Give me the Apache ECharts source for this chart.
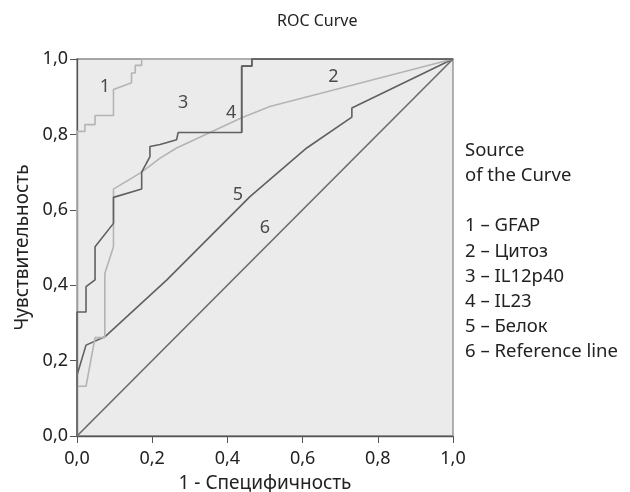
<!DOCTYPE html>
<html>
<head>
<meta charset="utf-8">
<script src="https://cdn.jsdelivr.net/npm/echarts@6/dist/echarts.min.js"></script>
<style>
    html, body {margin: 0; padding: 0; background: #fff;}
    #chart {width: 630px; height: 492px;}
</style>
</head>
<body>
<div id="chart"></div>
<script>
// ROC-кривые, точки [1 - специфичность, чувствительность]
const gfap = [[0, 0], [0, 0.808], [0.021, 0.808], [0.021, 0.826], [0.048, 0.826], [0.048, 0.850],
    [0.097, 0.850], [0.097, 0.919], [0.145, 0.937], [0.145, 0.963], [0.155, 0.963], [0.155, 0.983],
    [0.172, 0.983], [0.172, 1], [1, 1]];
const cytosis = [[0, 0], [0, 0.132], [0.024, 0.132], [0.048, 0.261], [0.074, 0.261], [0.074, 0.431],
    [0.097, 0.502], [0.097, 0.655], [0.172, 0.700], [0.221, 0.737], [0.265, 0.764], [0.438, 0.844],
    [0.513, 0.874], [1, 1]];
const il12p40 = [[0, 0], [0, 0.329], [0.024, 0.329], [0.024, 0.396], [0.048, 0.414], [0.048, 0.502],
    [0.097, 0.564], [0.097, 0.633], [0.172, 0.655], [0.172, 0.700], [0.194, 0.741], [0.194, 0.768],
    [0.221, 0.773], [0.265, 0.786], [0.269, 0.786], [0.269, 0.805], [0.438, 0.805], [0.438, 0.981],
    [0.465, 0.981], [0.465, 1], [1, 1]];
const il23 = [[0.438, 0.805], [0.438, 0.981], [0.465, 0.981], [0.465, 1], [1, 1]];
const protein = [[0, 0], [0, 0.161], [0.024, 0.241], [0.074, 0.263], [0.239, 0.414], [0.460, 0.635],
    [0.611, 0.764], [0.731, 0.846], [0.731, 0.870], [1, 1]];
const refLine = [[0, 0], [1, 1]];

// номера кривых на графике
const curveLabels = [
    {name: '1', value: [0.074, 0.927]},
    {name: '2', value: [0.682, 0.953]},
    {name: '3', value: [0.282, 0.884]},
    {name: '4', value: [0.410, 0.858]},
    {name: '5', value: [0.428, 0.640]},
    {name: '6', value: [0.500, 0.552]}
];
const legendLines = ['Source', 'of the Curve', '', '1 – GFAP', '2 – Цитоз', '3 – IL12p40',
    '4 – IL23', '5 – Белок', '6 – Reference line'];

const font = '"Noto Sans", sans-serif';
const dark = '#606060';
const light = '#b4b4b4';

const chart = echarts.init(document.getElementById('chart'));

const lineSeries = (name, data, color) => ({
    type: 'line',
    name,
    data,
    symbol: 'none',
    lineStyle: {color, width: 1.6},
    z: 3
});

const axisCommon = {
    type: 'value',
    min: 0,
    max: 1,
    interval: 0.2,
    axisLine: {show: true, lineStyle: {color: '#555', width: 1.3}},
    axisTick: {show: true, length: 7, lineStyle: {color: '#555'}},
    splitLine: {show: false},
    axisLabel: {
        color: '#222',
        fontSize: 18,
        fontFamily: font,
        formatter: v => v.toFixed(1).replace('.', ',')
    },
    nameTextStyle: {color: '#222', fontSize: 19, fontFamily: font}
};

const option = {
    animation: false,
    backgroundColor: '#fff',
    title: {
        text: 'ROC Curve',
        left: 272,
        top: 8,
        textStyle: {color: '#222', fontSize: 16, fontWeight: 'normal', fontFamily: font}
    },
    grid: {
        left: 77, right: 177, top: 59, bottom: 56,
        outerBoundsMode: 'none',
        show: true,
        backgroundColor: '#ebebeb',
        borderColor: '#8a8a8a',
        borderWidth: 1.3
    },
    xAxis: {
        ...axisCommon,
        name: '1 - Специфичность',
        nameLocation: 'middle',
        nameGap: 38,
        axisLabel: {...axisCommon.axisLabel, margin: 14}
    },
    yAxis: {
        ...axisCommon,
        name: 'Чувствительность',
        nameLocation: 'middle',
        nameGap: 43,
        axisLabel: {...axisCommon.axisLabel, margin: 9}
    },
    graphic: [{
        type: 'text',
        left: 465,
        top: 138,
        style: {
            text: legendLines.join('\n'),
            fill: '#222',
            font: '18.5px ' + font,
            lineHeight: 25.2
        }
    }],
    series: [
        lineSeries('Reference line', refLine, '#6a6a6a'),
        lineSeries('Белок', protein, dark),
        lineSeries('Цитоз', cytosis, light),
        lineSeries('GFAP', gfap, light),
        lineSeries('IL23', il23, dark),
        lineSeries('IL12p40', il12p40, dark),
        {
            type: 'scatter',
            data: curveLabels,
            symbolSize: 0,
            silent: true,
            label: {
                show: true,
                position: 'inside',
                formatter: p => p.name,
                color: '#222',
                fontSize: 18,
                fontFamily: font
            },
            z: 5
        }
    ]
};

chart.setOption(option);
</script>
</body>
</html>
